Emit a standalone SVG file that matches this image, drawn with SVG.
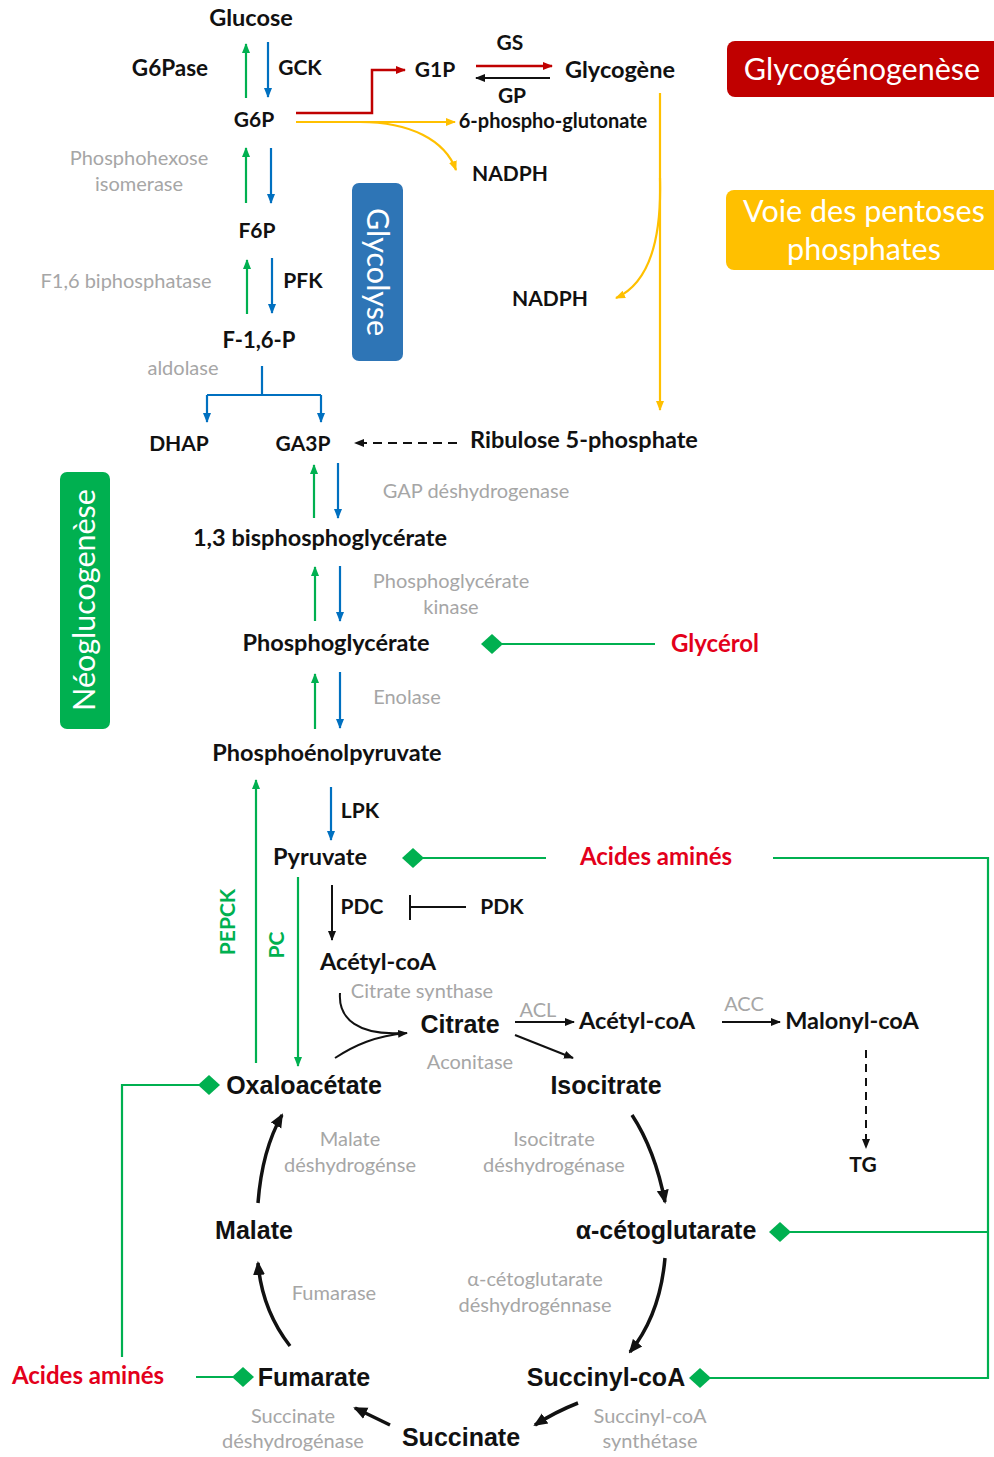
<svg xmlns="http://www.w3.org/2000/svg" width="994" height="1457" viewBox="0 0 994 1457">
<style>
.n{font-family:Lato,"Liberation Sans",sans-serif;font-weight:bold;font-size:23.5px;fill:#111;text-anchor:middle}
.u{font-family:Lato,"Liberation Sans",sans-serif;font-weight:bold;font-size:21px;fill:#111;text-anchor:middle}
.a{font-family:"Liberation Sans",Arial,sans-serif;font-weight:bold;font-size:25px;fill:#111;text-anchor:middle}
.g{font-family:Lato,"Liberation Sans",sans-serif;font-size:20px;fill:#a6a6a6;text-anchor:middle}
.r{font-family:Lato,"Liberation Sans",sans-serif;font-weight:bold;font-size:24px;fill:#e3001b;text-anchor:middle}
.gl{font-family:Lato,"Liberation Sans",sans-serif;font-weight:bold;font-size:21px;fill:#00b050;text-anchor:middle}
.w{font-family:Lato,"Liberation Sans",sans-serif;font-size:30.5px;fill:#fff;text-anchor:middle}
.cg{stroke:#00b050;stroke-width:2.2;fill:none}
.cb{stroke:#0070c0;stroke-width:2.2;fill:none}
.cy{stroke:#ffc000;stroke-width:2.2;fill:none}
.cr{stroke:#c00000;stroke-width:2.5;fill:none}
.ck{stroke:#111;stroke-width:2;fill:none}
.ct{stroke:#111;stroke-width:3.5;fill:none}
.dm{fill:#00b050}
</style>
<defs>
<marker id="mg" markerWidth="10" markerHeight="10" refX="9" refY="5" orient="auto" markerUnits="userSpaceOnUse"><path d="M0,1 L10,5 L0,9 z" fill="#00b050"/></marker>
<marker id="mb" markerWidth="10" markerHeight="10" refX="9" refY="5" orient="auto" markerUnits="userSpaceOnUse"><path d="M0,1 L10,5 L0,9 z" fill="#0070c0"/></marker>
<marker id="my" markerWidth="10" markerHeight="10" refX="9" refY="5" orient="auto" markerUnits="userSpaceOnUse"><path d="M0,1 L10,5 L0,9 z" fill="#ffc000"/></marker>
<marker id="mr" markerWidth="10" markerHeight="10" refX="9" refY="5" orient="auto" markerUnits="userSpaceOnUse"><path d="M0,1 L10,5 L0,9 z" fill="#c00000"/></marker>
<marker id="mk" markerWidth="10" markerHeight="10" refX="9" refY="5" orient="auto" markerUnits="userSpaceOnUse"><path d="M0,1 L10,5 L0,9 z" fill="#111"/></marker>
<marker id="mt" markerWidth="14" markerHeight="14" refX="12" refY="7" orient="auto" markerUnits="userSpaceOnUse"><path d="M0,1 L14,7 L0,13 z" fill="#111"/></marker>
</defs>
<rect width="994" height="1457" fill="#fff"/>

<g id="connectors">
<path class="cg" d="M246,98 V44" marker-end="url(#mg)"/>
<path class="cb" d="M268,42 V97" marker-end="url(#mb)"/>
<path class="cr" d="M296,113 H372 V70 H405" marker-end="url(#mr)"/>
<path class="cy" d="M296,122 H455" marker-end="url(#my)"/>
<path class="cy" d="M360,122 C410,122 445,140 456,170" marker-end="url(#my)"/>
<path class="cr" d="M476,66 H552" marker-end="url(#mr)"/>
<path class="ck" d="M550,78 H476" marker-end="url(#mk)"/>
<path class="cy" d="M660,93 V410" marker-end="url(#my)"/>
<path class="cy" d="M660,178 C662,250 645,285 616,298" marker-end="url(#my)"/>
<path class="cg" d="M246,203 V148" marker-end="url(#mg)"/>
<path class="cb" d="M271,148 V203" marker-end="url(#mb)"/>
<path class="cg" d="M247,314 V260" marker-end="url(#mg)"/>
<path class="cb" d="M272,258 V313" marker-end="url(#mb)"/>
<path class="cb" d="M262,366 V395 M207,395 H321"/>
<path class="cb" d="M207,395 V422" marker-end="url(#mb)"/>
<path class="cb" d="M321,395 V422" marker-end="url(#mb)"/>
<path class="ck" d="M457,443 H355" stroke-dasharray="9,6" marker-end="url(#mk)"/>
<path class="cg" d="M314,518 V465" marker-end="url(#mg)"/>
<path class="cb" d="M338,463 V518" marker-end="url(#mb)"/>
<path class="cg" d="M315,621 V567" marker-end="url(#mg)"/>
<path class="cb" d="M340,566 V621" marker-end="url(#mb)"/>
<path class="cg" d="M655,644 H500"/>
<polygon class="dm" points="481,644 492,634 503,644 492,654"/>
<path class="cg" d="M315,729 V674" marker-end="url(#mg)"/>
<path class="cb" d="M340,672 V728" marker-end="url(#mb)"/>
<path class="cg" d="M256,1063 V780" marker-end="url(#mg)"/>
<path class="cg" d="M298,877 V1066" marker-end="url(#mg)"/>
<path class="cb" d="M331,787 V840" marker-end="url(#mb)"/>
<path class="cg" d="M546,858 H420"/>
<polygon class="dm" points="402,858 413,848 424,858 413,868"/>
<path class="cg" d="M773,858 H988 V1378 H710 M988,1232 H790"/>
<polygon class="dm" points="769,1232 780,1222 791,1232 780,1242"/>
<polygon class="dm" points="689,1378 700,1368 711,1378 700,1388"/>
<path class="ck" d="M332,885 V940" marker-end="url(#mk)"/>
<path class="ck" d="M410,895 V920 M410,907 H466"/>
<path class="ck" d="M340,993 C338,1020 360,1035 400,1033"/>
<path class="ck" d="M335,1058 C355,1045 375,1036 407,1033" marker-end="url(#mk)"/>
<path class="ck" d="M515,1022 H574" marker-end="url(#mk)"/>
<path class="ck" d="M722,1022 H780" marker-end="url(#mk)"/>
<path class="ck" d="M866,1050 V1148" stroke-dasharray="8,6" marker-end="url(#mk)"/>
<path class="ck" d="M515,1035 L573,1058" marker-end="url(#mk)"/>
<path class="ct" d="M632,1115 Q655,1150 665,1202" marker-end="url(#mt)"/>
<path class="ct" d="M665,1258 Q660,1315 630,1352" marker-end="url(#mt)"/>
<path class="ct" d="M578,1403 Q555,1412 535,1425" marker-end="url(#mt)"/>
<path class="ct" d="M390,1425 L355,1408" marker-end="url(#mt)"/>
<path class="ct" d="M290,1346 Q262,1310 258,1263" marker-end="url(#mt)"/>
<path class="ct" d="M258,1203 Q262,1150 282,1115" marker-end="url(#mt)"/>
<path class="cg" d="M122,1357 V1085 H200"/>
<polygon class="dm" points="198,1085 209,1075 220,1085 209,1095"/>
<path class="cg" d="M196,1377 H235"/>
<polygon class="dm" points="232,1377 243,1367 254,1377 243,1387"/>
</g>

<g id="box-glycogenogenese"><rect x="727" y="41" width="275" height="56" rx="8" fill="#c00000"/><text class="w" x="862" y="80">Glycogénogenèse</text></g>
<g id="box-pentoses"><rect x="726" y="190" width="280" height="80" rx="8" fill="#ffc000"/><text class="w" x="864" y="222">Voie des pentoses</text><text class="w" x="864" y="260">phosphates</text></g>
<g id="box-glycolyse"><rect x="352" y="183" width="51" height="178" rx="7" fill="#2e75b6"/><text class="w" transform="translate(377,272) rotate(90)" y="10">Glycolyse</text></g>
<g id="box-neo"><rect x="60" y="472" width="50" height="257" rx="7" fill="#00b050"/><text class="w" transform="translate(85,600) rotate(-90)" y="10">Néoglucogenèse</text></g>

<g id="n-glucose"><text class="n" x="251" y="26">Glucose</text></g>
<g id="e-g6pase"><text class="n" x="170" y="76" style="font-size:22.5px">G6Pase</text></g>
<g id="e-gck"><text class="u" x="300" y="75">GCK</text></g>
<g id="n-g6p"><text class="u" x="254" y="127">G6P</text></g>
<g id="n-g1p"><text class="u" x="435" y="77">G1P</text></g>
<g id="e-gs"><text class="u" x="510" y="50">GS</text></g>
<g id="e-gp"><text class="u" x="512" y="103">GP</text></g>
<g id="n-glycogene"><text class="n" x="620" y="78">Glycogène</text></g>
<g id="n-6pg"><text class="n" x="553" y="128" style="font-size:20px">6-phospho-glutonate</text></g>
<g id="n-nadph1"><text class="u" x="510" y="181">NADPH</text></g>
<g id="n-nadph2"><text class="u" x="550" y="306">NADPH</text></g>
<g id="e-phi"><text class="g" x="139" y="165">Phosphohexose</text><text class="g" x="139" y="191">isomerase</text></g>
<g id="n-f6p"><text class="u" x="257" y="238">F6P</text></g>
<g id="e-f16"><text class="g" x="126" y="288">F1,6 biphosphatase</text></g>
<g id="e-pfk"><text class="u" x="303" y="288">PFK</text></g>
<g id="n-f16p"><text class="u" x="259" y="348" style="font-size:22px">F-1,6-P</text></g>
<g id="e-aldolase"><text class="g" x="183" y="375">aldolase</text></g>
<g id="n-dhap"><text class="u" x="179" y="451">DHAP</text></g>
<g id="n-ga3p"><text class="u" x="303" y="451">GA3P</text></g>
<g id="n-ribulose"><text class="n" x="584" y="448">Ribulose 5-phosphate</text></g>
<g id="e-gapdh"><text class="g" x="476" y="498">GAP déshydrogenase</text></g>
<g id="n-13bpg"><text class="n" x="320" y="546">1,3 bisphosphoglycérate</text></g>
<g id="e-pgk"><text class="g" x="451" y="588">Phosphoglycérate</text><text class="g" x="451" y="614">kinase</text></g>
<g id="n-pg"><text class="n" x="336" y="651">Phosphoglycérate</text></g>
<g id="n-glycerol"><text class="r" x="715" y="652">Glycérol</text></g>
<g id="e-enolase"><text class="g" x="407" y="704">Enolase</text></g>
<g id="n-pep"><text class="n" x="327" y="761">Phosphoénolpyruvate</text></g>
<g id="e-lpk"><text class="u" x="360" y="818">LPK</text></g>
<g id="e-pepck"><text class="gl" transform="translate(228,922) rotate(-90)" y="7">PEPCK</text></g>
<g id="e-pc"><text class="gl" transform="translate(277,945) rotate(-90)" y="7">PC</text></g>
<g id="n-pyruvate"><text class="n" x="320" y="865">Pyruvate</text></g>
<g id="n-aa1"><text class="r" x="656" y="865">Acides aminés</text></g>
<g id="e-pdc"><text class="u" x="362" y="914">PDC</text></g>
<g id="e-pdk"><text class="u" x="502" y="914">PDK</text></g>
<g id="n-acetylcoa1"><text class="n" x="378" y="970">Acétyl-coA</text></g>
<g id="e-cs"><text class="g" x="422" y="998">Citrate synthase</text></g>
<g id="n-citrate"><text class="a" x="460" y="1033">Citrate</text></g>
<g id="e-acl"><text class="g" x="538" y="1017">ACL</text></g>
<g id="n-acetylcoa2"><text class="n" x="637" y="1029">Acétyl-coA</text></g>
<g id="e-acc"><text class="g" x="744" y="1011">ACC</text></g>
<g id="n-malonyl"><text class="n" x="852" y="1029">Malonyl-coA</text></g>
<g id="e-aconitase"><text class="g" x="470" y="1069">Aconitase</text></g>
<g id="n-oxalo"><text class="a" x="304" y="1094">Oxaloacétate</text></g>
<g id="n-isocitrate"><text class="a" x="606" y="1094">Isocitrate</text></g>
<g id="e-mdh"><text class="g" x="350" y="1146">Malate</text><text class="g" x="350" y="1172">déshydrogénse</text></g>
<g id="e-idh"><text class="g" x="554" y="1146">Isocitrate</text><text class="g" x="554" y="1172">déshydrogénase</text></g>
<g id="n-tg"><text class="u" x="863" y="1172">TG</text></g>
<g id="n-malate"><text class="a" x="254" y="1239">Malate</text></g>
<g id="n-akg"><text class="a" x="666" y="1239">α-cétoglutarate</text></g>
<g id="e-akgdh"><text class="g" x="535" y="1286">α-cétoglutarate</text><text class="g" x="535" y="1312">déshydrogénnase</text></g>
<g id="e-fumarase"><text class="g" x="334" y="1300">Fumarase</text></g>
<g id="n-aa2"><text class="r" x="88" y="1384">Acides aminés</text></g>
<g id="n-fumarate"><text class="a" x="314" y="1386">Fumarate</text></g>
<g id="n-succinylcoa"><text class="a" x="606" y="1386">Succinyl-coA</text></g>
<g id="e-sdh"><text class="g" x="293" y="1423">Succinate</text><text class="g" x="293" y="1448">déshydrogénase</text></g>
<g id="n-succinate"><text class="a" x="461" y="1446">Succinate</text></g>
<g id="e-scs"><text class="g" x="650" y="1423">Succinyl-coA</text><text class="g" x="650" y="1448">synthétase</text></g>
</svg>
